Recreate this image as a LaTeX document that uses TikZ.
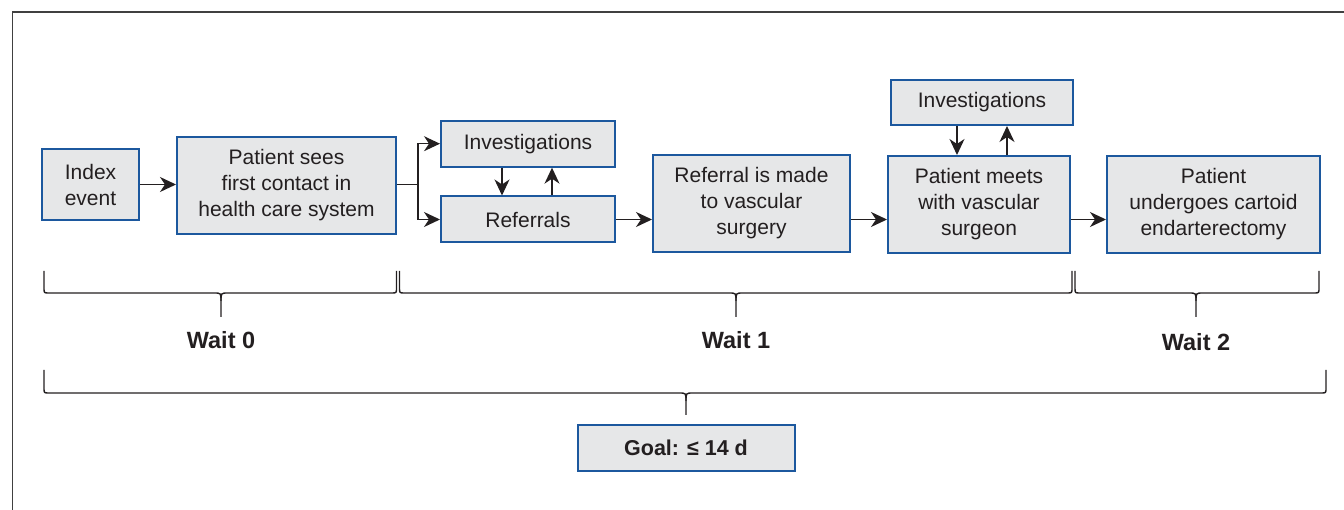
\documentclass[tikz,border=0pt]{standalone}
\usepackage{fontspec}
\setmainfont{Liberation Sans}
\usetikzlibrary{arrows.meta,calc}
\definecolor{boxblue}{RGB}{28,88,158}
\definecolor{boxfill}{RGB}{230,231,232}
\definecolor{txt}{RGB}{35,31,32}
\newcommand\mybrace[6]{%
  \draw[bracestyle] (#1,#4) -- (#1,#5-5) .. controls (#1,#5) .. (#1+5,#5) -- (#2-7,#5) .. controls (#2,#5) .. (#2,#5+8) -- (#2,#6);
  \draw[bracestyle] (#2,#5+8) .. controls (#2,#5) .. (#2+7,#5) -- (#3-5,#5) .. controls (#3,#5) .. (#3,#5-5) -- (#3,#4);
}
\begin{document}
\begin{tikzpicture}[x=1pt,y=-1pt,
  procbox/.style={draw=boxblue,fill=boxfill,line width=2pt,inner sep=0pt,align=center,
     text=txt,font=\fontsize{21}{26}\selectfont},
  conn/.style={line width=1.4pt,draw=txt,-{Stealth[length=16pt,width=15pt,inset=5pt]}},
  plain/.style={line width=1.4pt,draw=txt},
  bracestyle/.style={line width=1.4pt,draw=txt},
  waitlbl/.style={text=txt,font=\fontsize{23.5}{28}\selectfont\bfseries}]
\useasboundingbox (0,0) rectangle (1344,510);
\draw[line width=1.6pt,draw=black!75] (12.5,510) -- (12.5,12) -- (1344,12);

\node[procbox,minimum width=97pt,minimum height=71pt] (idx) at (90.5,184.5) {Index\\event};
\node[procbox,minimum width=219pt,minimum height=97pt] (first) at (286.5,185.5) {Patient sees\\first contact in\\health care system};
\node[procbox,minimum width=174pt,minimum height=46pt] (inv1) at (528,143.7) {Investigations};
\node[procbox,minimum width=174pt,minimum height=46pt] (ref) at (528,219.5) {Referrals};
\node[procbox,minimum width=197pt,minimum height=97pt] (refm) at (751.5,203.2) {Referral is made\\to vascular\\surgery};
\node[procbox,minimum width=182pt,minimum height=97pt] (meet) at (979,204.5) {Patient meets\\with vascular\\surgeon};
\node[procbox,minimum width=182pt,minimum height=45pt] (inv2) at (982,102.5) {Investigations};
\node[procbox,minimum width=213pt,minimum height=97pt] (und) at (1213.5,204.5) {Patient\\undergoes cartoid\\endarterectomy};
\node[procbox,minimum width=217pt,minimum height=46pt,font=\fontsize{21.5}{26}\selectfont\bfseries] (goal) at (686,447.5) {Goal: ≤ 14 d};

\draw[conn] (idx.east) -- (idx.east -| first.west);
\coordinate (br) at (418,184.5);
\draw[plain] (idx.east -| first.east) -- (br);
\draw[conn] (br) |- (inv1.west);
\draw[conn] (br) |- (ref.west);
\draw[conn] ([xshift=-26pt]inv1.south) -- ([xshift=-26pt]ref.north);
\draw[conn] ([xshift=24pt]ref.north) -- ([xshift=24pt]inv1.south);
\draw[conn] (ref.east) -- (ref.east -| refm.west);
\draw[conn] (ref.east -| refm.east) -- (ref.east -| meet.west);
\draw[conn] (ref.east -| meet.east) -- (ref.east -| und.west);
\draw[conn] ([xshift=-25pt]inv2.south) -- ([xshift=-25pt]inv2.south |- meet.north);
\draw[conn] ([xshift=25pt]inv2.south |- meet.north) -- ([xshift=25pt]inv2.south);

\mybrace{44}{221}{396.5}{271}{293}{317}
\mybrace{399.5}{736}{1072}{271}{293}{317}
\mybrace{1075}{1196}{1319}{271}{293}{317}
\mybrace{44}{686}{1326}{370}{393}{415}

\node[waitlbl] (w0) at (221,340) {Wait 0};
\node[waitlbl] (w1) at (736,340) {Wait 1};
\node[waitlbl] (w2) at (1196,342) {Wait 2};
\end{tikzpicture}
\end{document}
